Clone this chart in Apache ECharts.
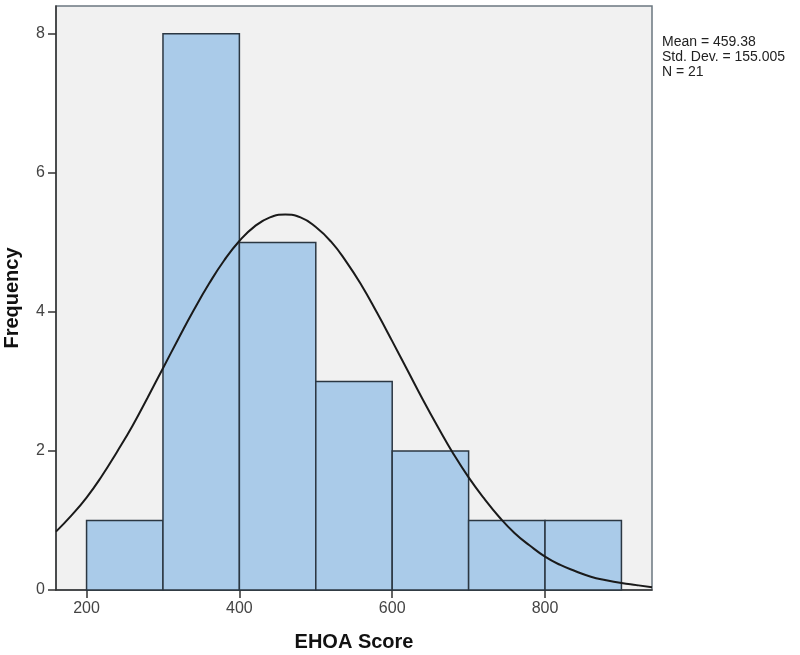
<!DOCTYPE html>
<html>
<head>
<meta charset="utf-8">
<script src="https://cdn.jsdelivr.net/npm/echarts@6/dist/echarts.min.js"></script>
<style>html,body{margin:0;padding:0;background:#fff}#c{width:800px;height:655px}</style>
</head>
<body>
<div id="c"></div>
<script>
// Histogram bins (EHOA Score) and frequencies
const binStarts = [200, 300, 400, 500, 600, 700, 800];
const binEnds   = [300, 400, 500, 600, 700, 800, 900];
const counts    = [1, 8, 5, 3, 2, 1, 1];
// Normal curve
const curveX = [160,180,200,220,240,260,280,300,320,340,360,380,400,420,440,460,480,500,520,540,560,580,600,620,640,660,680,700,720,740,760,780,800,820,840,860,880,900,920,940];
const curveY = [0.84,1.07,1.33,1.64,1.99,2.36,2.77,3.19,3.61,4.02,4.40,4.74,5.02,5.23,5.36,5.40,5.36,5.22,5.01,4.72,4.38,3.99,3.58,3.16,2.74,2.34,1.96,1.62,1.32,1.05,0.82,0.64,0.48,0.36,0.27,0.19,0.14,0.10,0.07,0.04];
const xTicks = [200, 400, 600, 800];
const yTicks = [0, 2, 4, 6, 8];
const statsLines = ['Mean = 459.38', 'Std. Dev. = 155.005', 'N = 21'];

const chart = echarts.init(document.getElementById('c'));
const barData = binStarts.map((s, i) => [s, binEnds[i], counts[i]]);
const curveData = curveX.map((x, i) => [x, curveY[i]]);

chart.setOption({
  animation: false,
  textStyle: { fontFamily: 'Liberation Sans, Arial, sans-serif' },
  grid: {
    left: 56, right: 148, top: 6, bottom: 65,
    outerBoundsMode: 'none', containLabel: false,
    show: true, backgroundColor: '#f1f1f1', borderColor: '#6b7780', borderWidth: 1.5
  },
  xAxis: {
    type: 'value', min: 160, max: 940,
    name: 'EHOA Score', nameLocation: 'middle', nameGap: 42,
    nameTextStyle: { fontSize: 20, fontWeight: 'bold', color: '#111' },
    axisLine: { show: true, onZero: false, lineStyle: { color: '#333', width: 1.5 } },
    axisTick: { show: true, length: 8, customValues: xTicks, lineStyle: { color: '#333', width: 1.5 } },
    axisLabel: { customValues: xTicks, fontSize: 16, color: '#444', margin: 11 },
    splitLine: { show: false }
  },
  yAxis: {
    type: 'value', min: 0, max: 8.4,
    name: 'Frequency', nameLocation: 'middle', nameGap: 34, nameRotate: 90,
    nameTextStyle: { fontSize: 20, fontWeight: 'bold', color: '#111' },
    axisLine: { show: true, lineStyle: { color: '#333', width: 1.5 } },
    axisTick: { show: true, length: 8, customValues: yTicks, lineStyle: { color: '#333', width: 1.5 } },
    axisLabel: { customValues: yTicks, fontSize: 16, color: '#444', margin: 11 },
    splitLine: { show: false }
  },
  graphic: [{
    type: 'text', left: 662, top: 35,
    style: { text: statsLines.join('\n'), fontSize: 14, lineHeight: 15, fill: '#222', fontFamily: 'Liberation Sans, Arial, sans-serif' }
  }],
  series: [{
    type: 'custom',
    data: barData,
    encode: { x: [0, 1], y: 2 },
    renderItem: function (params, api) {
      const p0 = api.coord([api.value(0), api.value(2)]);
      const p1 = api.coord([api.value(1), 0]);
      return {
        type: 'rect',
        shape: { x: p0[0], y: p0[1], width: p1[0] - p0[0], height: p1[1] - p0[1] },
        style: { fill: '#aacbe9', stroke: '#2b3742', lineWidth: 1.5 }
      };
    },
    z: 2
  }, {
    type: 'line',
    data: curveData,
    smooth: true,
    showSymbol: false,
    clip: true,
    lineStyle: { color: '#1a1a1a', width: 2 },
    z: 3
  }]
});
</script>
</body>
</html>
